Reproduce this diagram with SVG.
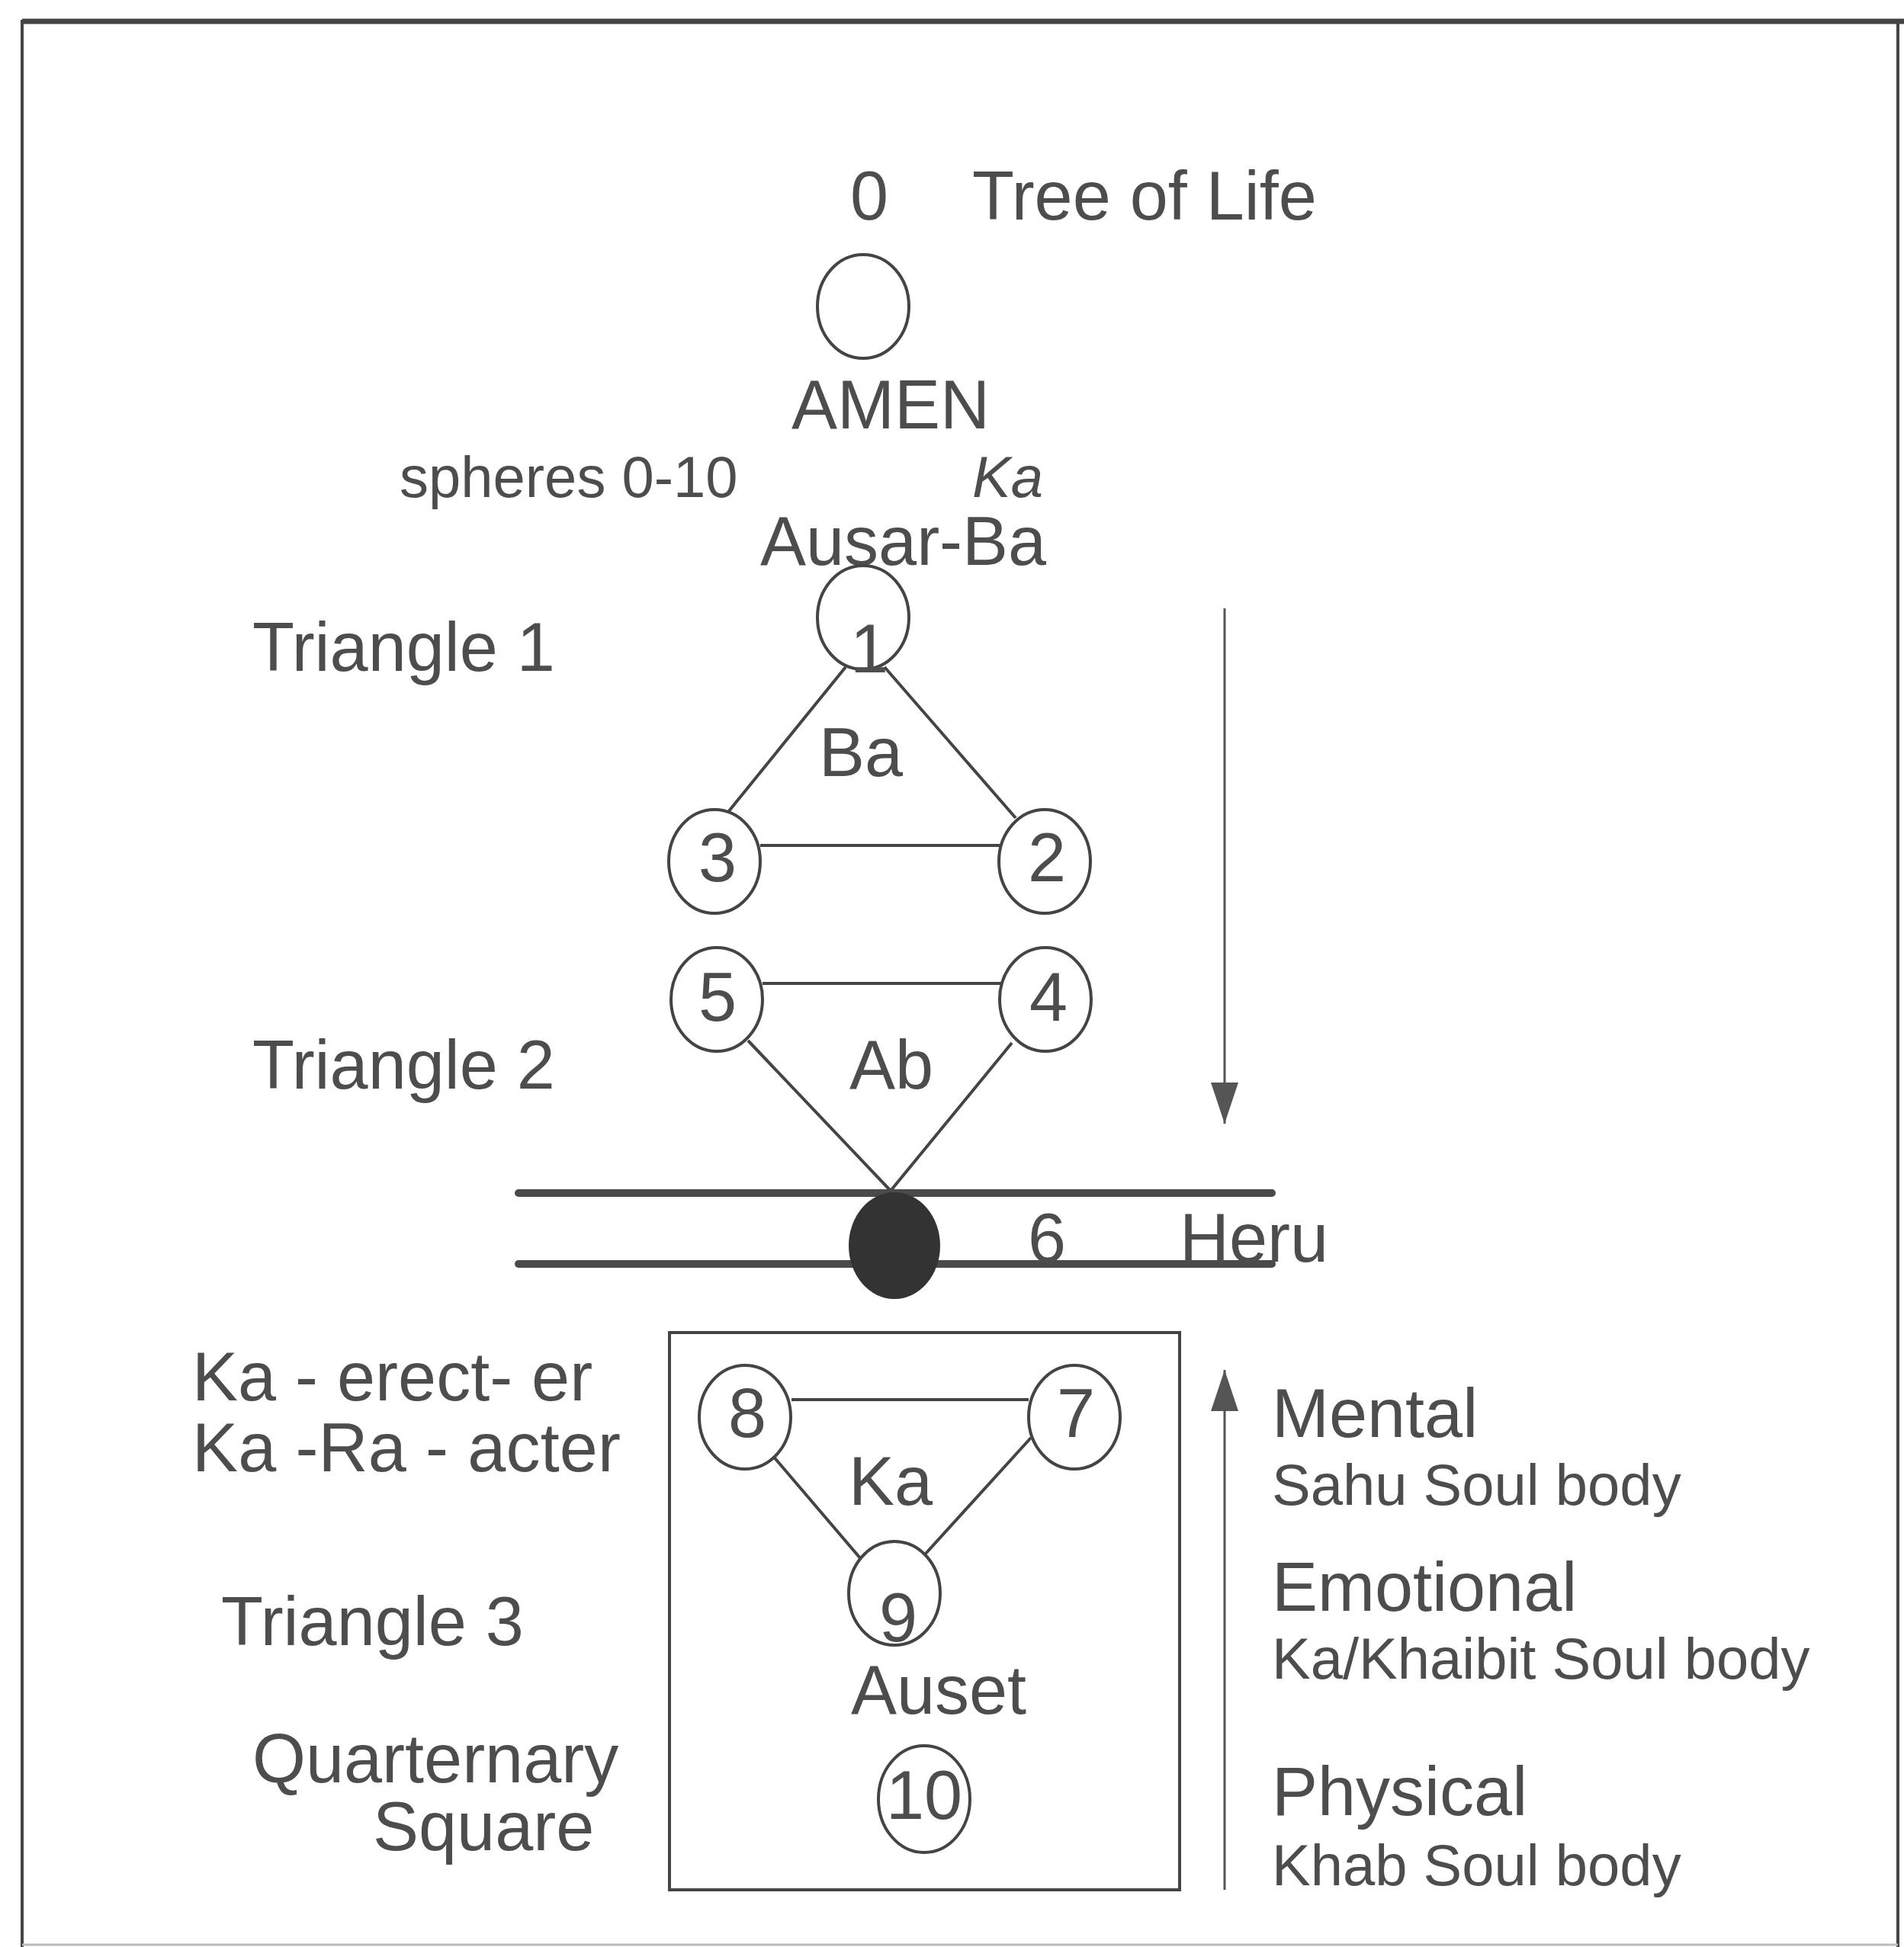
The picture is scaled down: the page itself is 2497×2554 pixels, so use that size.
<svg xmlns="http://www.w3.org/2000/svg" width="2497" height="2554" viewBox="0 0 2497 2554">
  <style>
    .t { font-family: "Liberation Sans", Arial, sans-serif; fill: #4d4d4d; }
    .big { font-size: 90px; }
    .mid { font-size: 76px; }
    .c { text-anchor: middle; }
    .node { fill: #ffffff; stroke: #444444; stroke-width: 4; }
    .edge { stroke: #444444; stroke-width: 4; fill: none; }
    .bar { stroke: #4a4a4a; stroke-width: 10; stroke-linecap: round; }
    .arrow { stroke: #555555; stroke-width: 3; fill: none; }
  </style>
  <defs>
    <marker id="ah" viewBox="0 0 54 36" refX="54" refY="18" markerWidth="54" markerHeight="36" markerUnits="userSpaceOnUse" orient="auto">
      <path d="M0,0 L54,18 L0,36 Z" fill="#555555"/>
    </marker>
  </defs>
  <rect x="0" y="0" width="2497" height="2554" fill="#ffffff"/>

  <!-- frame -->
  <g id="frame" fill="none" stroke="#444444">
    <line x1="29" y1="28" x2="2497" y2="28" stroke-width="7"/>
    <line x1="29" y1="26" x2="29" y2="2554" stroke-width="4"/>
    <line x1="2489" y1="26" x2="2489" y2="2554" stroke-width="4"/>
    <line x1="29" y1="2551" x2="2489" y2="2551" stroke-width="3" stroke="#bbbbbb"/>
  </g>

  <!-- connectors -->
  <g id="connectors">
    <line class="edge" x1="1109" y1="875" x2="951" y2="1070"/>
    <line class="edge" x1="1160" y1="875" x2="1332" y2="1073"/>
    <line class="edge" x1="997" y1="1109" x2="1311" y2="1109"/>
    <line class="edge" x1="1000" y1="1290" x2="1313" y2="1290"/>
    <line class="edge" x1="981" y1="1365" x2="1168" y2="1562"/>
    <line class="edge" x1="1327" y1="1368" x2="1168" y2="1562"/>
    <line class="bar" x1="680" y1="1565" x2="1668" y2="1565"/>
    <line class="bar" x1="680" y1="1658" x2="1668" y2="1658"/>
    <line class="edge" x1="1038" y1="1836" x2="1349" y2="1836"/>
    <line class="edge" x1="1013" y1="1909" x2="1135" y2="2052"/>
    <line class="edge" x1="1352" y1="1886" x2="1213" y2="2039"/>
    <line class="arrow" x1="1606" y1="798" x2="1606" y2="1474" marker-end="url(#ah)"/>
    <line class="arrow" x1="1606" y1="2479" x2="1606" y2="1797" marker-end="url(#ah)"/>
  </g>

  <!-- header -->
  <g id="header">
    <text class="t big c" x="1140" y="288">0</text>
    <text class="t big" x="1275" y="288">Tree of Life</text>
  </g>

  <g id="node-0">
    <ellipse class="node" cx="1132" cy="402" rx="60" ry="68"/>
    <text class="t big c" x="1168" y="562">AMEN</text>
  </g>

  <g id="labels-top">
    <text class="t mid" x="524" y="652">spheres 0-10</text>
    <text class="t mid" x="1275" y="652" font-style="italic">Ka</text>
    <text class="t big" x="997" y="741">Ausar-Ba</text>
    <text class="t big" x="331" y="880">Triangle 1</text>
    <text class="t big" x="331" y="1428">Triangle 2</text>
  </g>

  <g id="node-1">
    <ellipse class="node" cx="1132" cy="810" rx="60" ry="68"/>
    <text class="t big c" x="1140" y="882">1</text>
  </g>
  <g id="node-2">
    <ellipse class="node" cx="1370" cy="1130" rx="60" ry="68"/>
    <text class="t big c" x="1373" y="1156">2</text>
  </g>
  <g id="node-3">
    <ellipse class="node" cx="937" cy="1130" rx="60" ry="68"/>
    <text class="t big c" x="941" y="1156">3</text>
  </g>
  <text class="t big c" x="1129" y="1018">Ba</text>

  <g id="node-4">
    <ellipse class="node" cx="1371" cy="1311" rx="60" ry="68"/>
    <text class="t big c" x="1375" y="1339">4</text>
  </g>
  <g id="node-5">
    <ellipse class="node" cx="940" cy="1311" rx="60" ry="68"/>
    <text class="t big c" x="941" y="1339">5</text>
  </g>
  <text class="t big c" x="1169" y="1428">Ab</text>

  <g id="node-6">
    <ellipse cx="1173" cy="1634" rx="60" ry="70" fill="#333333"/>
    <text class="t big c" x="1373" y="1655">6</text>
    <text class="t big" x="1547" y="1655">Heru</text>
  </g>

  <g id="square">
    <rect x="878" y="1748" width="669" height="731" fill="none" stroke="#444444" stroke-width="4"/>
  </g>

  <g id="node-7">
    <ellipse class="node" cx="1409" cy="1859" rx="60" ry="68"/>
    <text class="t big c" x="1411" y="1885">7</text>
  </g>
  <g id="node-8">
    <ellipse class="node" cx="977" cy="1859" rx="60" ry="68"/>
    <text class="t big c" x="980" y="1885">8</text>
  </g>
  <text class="t big c" x="1168" y="1974">Ka</text>
  <g id="node-9">
    <ellipse class="node" cx="1173" cy="2090" rx="60" ry="68"/>
    <text class="t big c" x="1178" y="2153">9</text>
  </g>
  <text class="t big c" x="1231" y="2248">Auset</text>
  <g id="node-10">
    <ellipse class="node" cx="1212" cy="2360" rx="60" ry="70"/>
    <text class="t big c" x="1212" y="2386">10</text>
  </g>

  <g id="labels-left">
    <text class="t big" x="252" y="1837">Ka - erect- er</text>
    <text class="t big" x="252" y="1930" textLength="562">Ka -Ra - acter</text>
    <text class="t big" x="290" y="2158">Triangle 3</text>
    <text class="t big" x="331" y="2338">Quarternary</text>
    <text class="t big" x="489" y="2427">Square</text>
  </g>

  <g id="labels-right">
    <text class="t big" x="1668" y="1885">Mental</text>
    <text class="t mid" x="1668" y="1974">Sahu Soul body</text>
    <text class="t big" x="1668" y="2113">Emotional</text>
    <text class="t mid" x="1668" y="2202">Ka/Khaibit Soul body</text>
    <text class="t big" x="1668" y="2381">Physical</text>
    <text class="t mid" x="1668" y="2473">Khab Soul body</text>
  </g>
</svg>
